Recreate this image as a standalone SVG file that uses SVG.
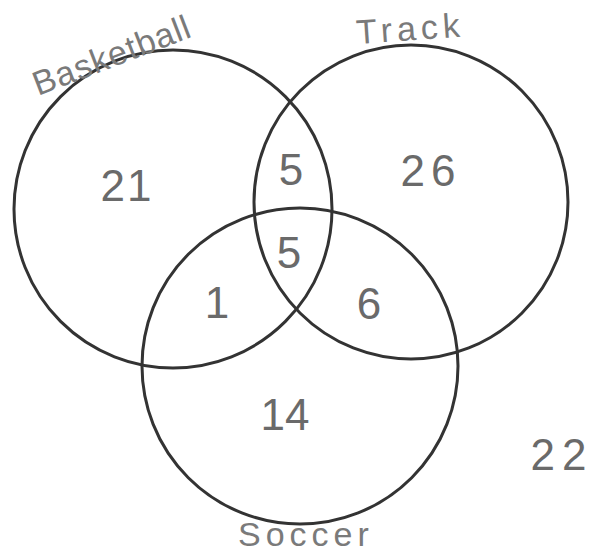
<svg xmlns="http://www.w3.org/2000/svg" width="593" height="556" viewBox="0 0 593 556">
<style>
.ring{fill:none;stroke:#333;stroke-width:3}
.lbl{font-family:"Liberation Sans","DejaVu Sans",sans-serif;font-size:34px;fill:#7a7a7a}
.num{font-family:"Liberation Sans","DejaVu Sans",sans-serif;font-size:44px;fill:#6a6a6a;text-anchor:middle}
</style>
<rect width="593" height="556" fill="#fff"/>
<g id="basketball">
<circle class="ring" cx="173" cy="209" r="159"/>
<text class="lbl" x="0" y="0" transform="translate(38,96) rotate(-21)" letter-spacing="1">Basketball</text>
</g>
<g id="track">
<circle class="ring" cx="411" cy="202" r="157"/>
<text class="lbl" x="0" y="0" transform="translate(357,44) rotate(-4)" font-size="36" letter-spacing="5">Track</text>
</g>
<g id="soccer">
<circle class="ring" cx="300" cy="366" r="158"/>
<text class="lbl" x="238" y="546" letter-spacing="5">Soccer</text>
</g>
<g id="counts">
<text class="num" x="127" y="201" letter-spacing="2">21</text>
<text class="num" x="291" y="185">5</text>
<text class="num" x="431" y="186" letter-spacing="6" font-size="46">26</text>
<text class="num" x="289" y="268">5</text>
<text class="num" x="217" y="318">1</text>
<text class="num" x="369" y="319">6</text>
<text class="num" x="285" y="430">14</text>
<text class="num" x="562" y="470" letter-spacing="7" font-size="46">22</text>
</g>
</svg>
